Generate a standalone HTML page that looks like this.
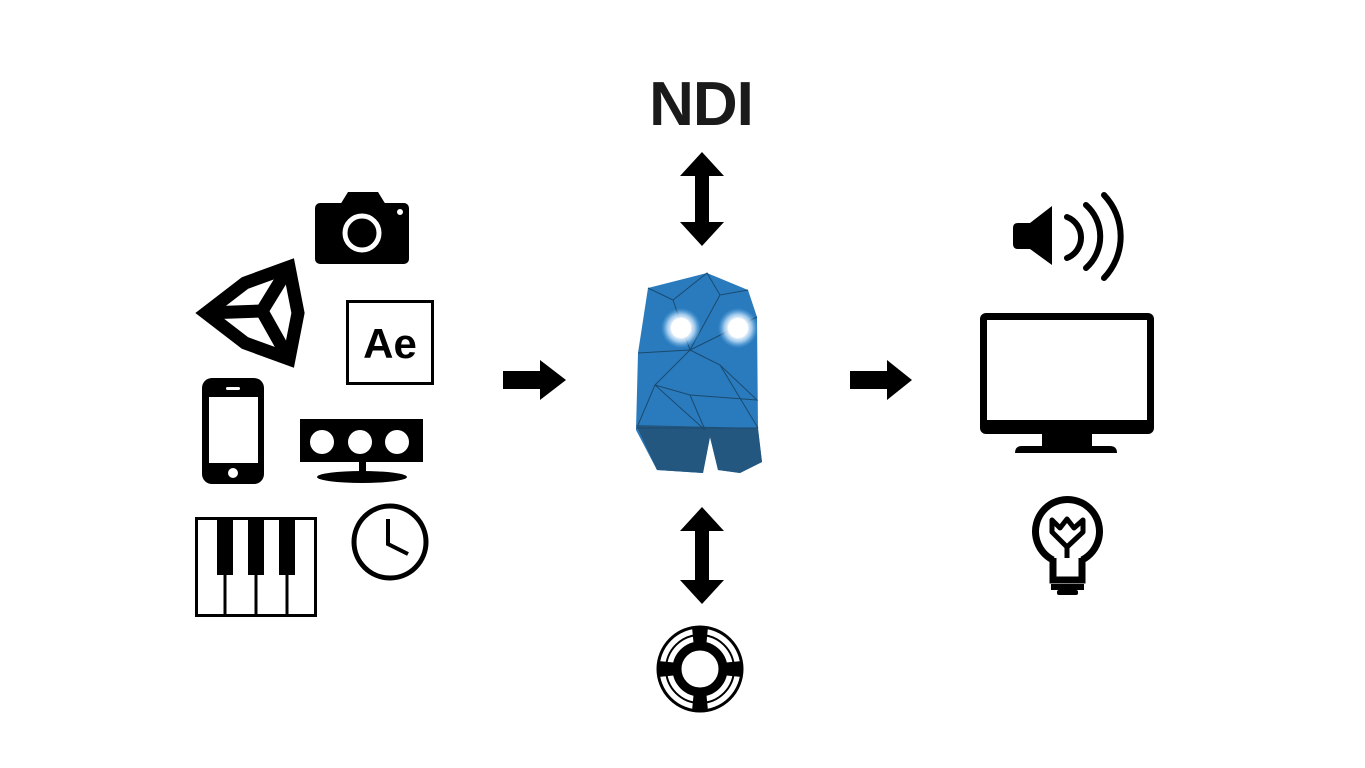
<!DOCTYPE html>
<html><head><meta charset="utf-8"><style>html,body{margin:0;padding:0;background:#fff}svg{display:block}</style></head>
<body>
<svg width="1365" height="768" viewBox="0 0 1365 768" xmlns="http://www.w3.org/2000/svg">
<defs>
<radialGradient id="glow"><stop offset="0.45" stop-color="#fff"/><stop offset="0.7" stop-color="#cfe8ff" stop-opacity="0.7"/><stop offset="1" stop-color="#6fb7f0" stop-opacity="0"/></radialGradient>
</defs>
<!-- Camera -->
<path d="M340 205 L348 192 L378 192 L386 205 Z" fill="#000"/>
<rect x="315" y="203" width="94" height="61" rx="5" fill="#000"/>
<circle cx="362" cy="233" r="17" fill="none" stroke="#fff" stroke-width="5"/>
<circle cx="400" cy="212" r="3" fill="#fff"/>
<!-- Unity -->
<g fill="none" stroke="#000" stroke-width="13" stroke-linejoin="miter">
<path d="M206 313 L245 283 L289 267 L298 313 L289 359 L245 343 Z"/>
<path d="M206 313 L262 311 L289 267 M262 311 L289 359"/>
</g>
<!-- Ae -->
<rect x="347.5" y="301.5" width="85" height="82" fill="none" stroke="#000" stroke-width="3"/>
<text x="390" y="358" font-family="Liberation Sans, sans-serif" font-weight="bold" font-size="42" text-anchor="middle" fill="#000">Ae</text>
<!-- Phone -->
<rect x="202" y="378" width="62" height="106" rx="10" fill="#000"/>
<rect x="209" y="397" width="49" height="66" fill="#fff"/>
<circle cx="233" cy="473" r="5" fill="#fff"/>
<rect x="226" y="387" width="14" height="3" rx="1.5" fill="#fff"/>
<!-- Kinect -->
<rect x="300" y="419" width="123" height="43" fill="#000"/>
<circle cx="322" cy="442" r="12" fill="#fff"/><circle cx="360" cy="442" r="12" fill="#fff"/><circle cx="397" cy="442" r="12" fill="#fff"/>
<rect x="359" y="461" width="7" height="12" fill="#000"/>
<ellipse cx="362" cy="477" rx="45" ry="6" fill="#000"/>
<!-- Piano -->
<rect x="196.5" y="518.5" width="119" height="97" fill="none" stroke="#000" stroke-width="3"/>
<g stroke="#000" stroke-width="3"><line x1="225" y1="518" x2="225" y2="616"/><line x1="256" y1="518" x2="256" y2="616"/><line x1="287" y1="518" x2="287" y2="616"/></g>
<rect x="217" y="518" width="16" height="57" fill="#000"/><rect x="248" y="518" width="16" height="57" fill="#000"/><rect x="279" y="518" width="16" height="57" fill="#000"/>
<!-- Clock -->
<circle cx="390" cy="542" r="36" fill="none" stroke="#000" stroke-width="5"/>
<path d="M388 519 L388 544 L408 554" fill="none" stroke="#000" stroke-width="4"/>
<!-- Right arrows -->
<path d="M503 371 L540 371 L540 360 L566 380 L540 400 L540 389 L503 389 Z" fill="#000"/>
<path d="M850 371 L887 371 L887 360 L912 380 L887 400 L887 389 L850 389 Z" fill="#000"/>
<!-- NDI -->
<text x="701" y="125" font-family="Liberation Sans, sans-serif" font-weight="bold" font-size="62" text-anchor="middle" fill="#1a1a1a" letter-spacing="-1">NDI</text>
<!-- Vertical double arrows -->
<path d="M702 152 L724 176 L709 176 L709 222 L724 222 L702 246 L680 222 L695 222 L695 176 L680 176 Z" fill="#000"/>
<path d="M702 507 L724 531 L709 531 L709 580 L724 580 L702 604 L680 580 L695 580 L695 531 L680 531 Z" fill="#000"/>
<!-- Ghost -->
<path d="M648 288 L707 273 L748 290 L757 317 L758 430 L762 462 L740 473 L718 470 L710 437 L703 473 L657 470 L636 430 L638 353 Z" fill="#2a7bbd"/>
<path d="M636 425 L758 428 L762 462 L740 473 L718 470 L710 437 L703 473 L657 470 Z" fill="#23577f"/>
<g fill="none" stroke="#1a4a70" stroke-width="1">
<path d="M648 288 L673 300 L707 273 L720 295 L748 290"/>
<path d="M673 300 L690 350 L720 295 M690 350 L757 317"/>
<path d="M638 353 L690 350 L655 385 L690 395 L757 400 L720 365 L690 350"/>
<path d="M655 385 L638 425 M690 395 L705 430 M720 365 L758 428 M655 385 L705 430"/>
<path d="M636 428 L758 428"/>
</g>
<circle cx="681" cy="328" r="20" fill="url(#glow)"/><circle cx="738" cy="328" r="20" fill="url(#glow)"/>
<circle cx="681" cy="328" r="10" fill="#fff"/><circle cx="738" cy="328" r="10" fill="#fff"/>
<!-- Life ring -->
<circle cx="700" cy="669" r="42" fill="none" stroke="#000" stroke-width="3"/>
<circle cx="700" cy="669" r="34" fill="none" stroke="#000" stroke-width="2"/>
<circle cx="700" cy="669" r="23" fill="none" stroke="#000" stroke-width="9"/>
<g fill="#000"><path d="M692 627 L708 627 L706 648 L694 648 Z"/><path d="M694 690 L706 690 L708 711 L692 711 Z"/><path d="M658 661 L679 663 L679 675 L658 677 Z"/><path d="M721 663 L742 661 L742 677 L721 675 Z"/></g>
<!-- Speaker -->
<path d="M1018 223 L1030 223 L1052 206 L1052 265 L1030 249 L1018 249 Q1013 249 1013 244 L1013 228 Q1013 223 1018 223 Z" fill="#000"/>
<g fill="none" stroke="#000" stroke-width="6" stroke-linecap="round">
<path d="M1067 217 A22 22 0 0 1 1067 258"/>
<path d="M1086 205 A42 42 0 0 1 1086 268"/>
<path d="M1104 195 A60 60 0 0 1 1104 278"/>
</g>
<!-- Monitor -->
<rect x="980" y="313" width="174" height="121" rx="6" fill="#000"/>
<rect x="987" y="320" width="160" height="100" fill="#fff"/>
<rect x="1042" y="433" width="50" height="14" fill="#000"/>
<path d="M1022 446 L1110 446 Q1117 446 1117 453 L1015 453 Q1015 446 1022 446 Z" fill="#000"/>
<!-- Bulb -->
<path d="M1053 560 A32 32 0 1 1 1082 560" fill="none" stroke="#000" stroke-width="7"/>
<path d="M1053 558 L1053 580 L1082 580 L1082 558" fill="none" stroke="#000" stroke-width="7"/>
<path d="M1052 520 L1060 528 L1067 519 L1074 528 L1083 520 L1083 532 L1067 547 L1052 532 Z" fill="none" stroke="#000" stroke-width="5" stroke-linejoin="round"/>
<line x1="1067" y1="547" x2="1067" y2="558" stroke="#000" stroke-width="5"/>
<rect x="1051" y="584" width="33" height="6" fill="#000"/>
<rect x="1057" y="590" width="21" height="5" rx="2" fill="#000"/>
</svg>
</body></html>
